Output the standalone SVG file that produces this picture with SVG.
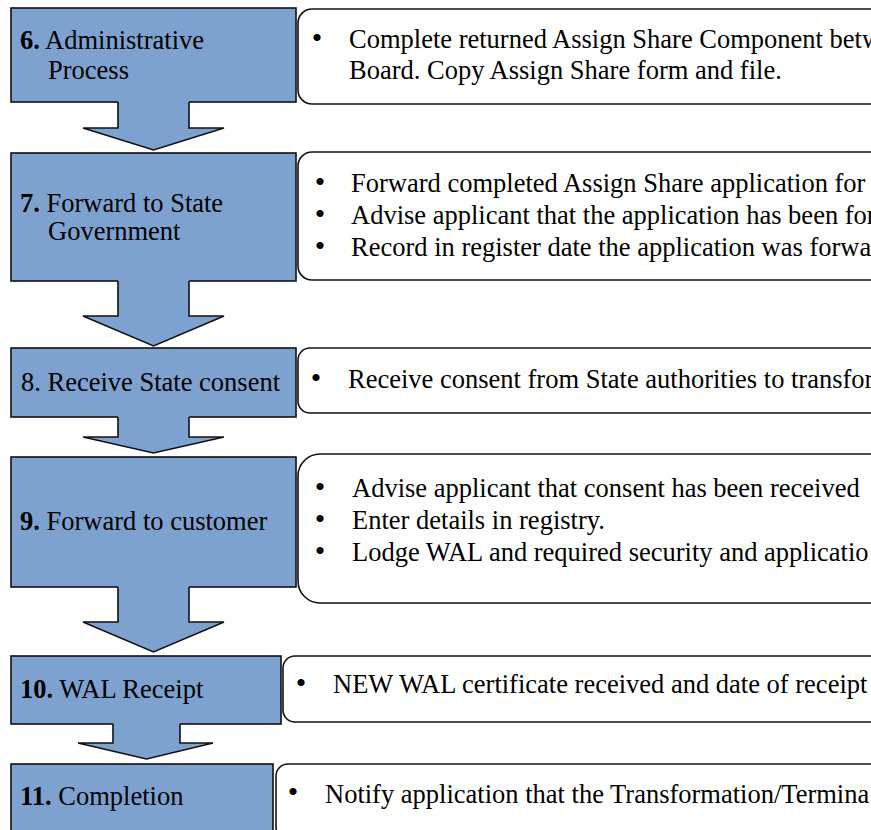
<svg xmlns="http://www.w3.org/2000/svg" width="871" height="830" viewBox="0 0 871 830">
<style>
.step{fill:#7DA2CF;stroke:#111;stroke-width:1.6}
.af{fill:#7DA2CF;stroke:none}
.al{fill:none;stroke:#111;stroke-width:1.6;stroke-linejoin:miter}
.det{fill:#fff;stroke:#111;stroke-width:1.6}
</style>
<rect width="871" height="830" fill="#fff"/>
<g id="n6">
<rect class="step" x="11" y="8" width="285" height="94"/>
<text x="20" y="49" font-family="'Liberation Serif', serif" font-size="26.5"><tspan font-weight="bold">6.</tspan> Administrative</text>
<text x="48" y="79" font-family="'Liberation Serif', serif" font-size="26.5">Process</text>
</g>
<g id="d6">
<rect class="det" x="298" y="9" width="600" height="95" rx="14"/>
<text x="317" y="48" font-family="'Liberation Serif', serif" font-size="30" text-anchor="middle">•</text>
<text x="349" y="48" font-family="'Liberation Serif', serif" font-size="26.5">Complete returned Assign Share Component betw</text>
<text x="349" y="79" font-family="'Liberation Serif', serif" font-size="26.5">Board. Copy Assign Share form and file.</text>
</g>
<g id="n7">
<rect class="step" x="11" y="153" width="285" height="128"/>
<text x="20" y="212" font-family="'Liberation Serif', serif" font-size="26.5"><tspan font-weight="bold">7.</tspan> Forward to State</text>
<text x="48" y="240" font-family="'Liberation Serif', serif" font-size="26.5">Government</text>
</g>
<g id="d7">
<rect class="det" x="298" y="152" width="600" height="128" rx="14"/>
<text x="320" y="192" font-family="'Liberation Serif', serif" font-size="30" text-anchor="middle">•</text>
<text x="351" y="192" font-family="'Liberation Serif', serif" font-size="26.5">Forward completed Assign Share application for</text>
<text x="320" y="224" font-family="'Liberation Serif', serif" font-size="30" text-anchor="middle">•</text>
<text x="351" y="224" font-family="'Liberation Serif', serif" font-size="26.5">Advise applicant that the application has been for</text>
<text x="320" y="256" font-family="'Liberation Serif', serif" font-size="30" text-anchor="middle">•</text>
<text x="351" y="256" font-family="'Liberation Serif', serif" font-size="26.5">Record in register date the application was forwa</text>
</g>
<g id="n8">
<rect class="step" x="11" y="348" width="285" height="69"/>
<text x="21" y="391" font-family="'Liberation Serif', serif" font-size="26.5">8. Receive State consent</text>
</g>
<g id="d8">
<rect class="det" x="298" y="348" width="600" height="65" rx="12"/>
<text x="316" y="388" font-family="'Liberation Serif', serif" font-size="30" text-anchor="middle">•</text>
<text x="348" y="388" font-family="'Liberation Serif', serif" font-size="26.5">Receive consent from State authorities to transfor</text>
</g>
<g id="n9">
<rect class="step" x="11" y="457" width="285" height="130"/>
<text x="20" y="530" font-family="'Liberation Serif', serif" font-size="26.5"><tspan font-weight="bold">9.</tspan> Forward to customer</text>
</g>
<g id="d9">
<rect class="det" x="298" y="454" width="600" height="149" rx="22"/>
<text x="320" y="497" font-family="'Liberation Serif', serif" font-size="30" text-anchor="middle">•</text>
<text x="352" y="497" font-family="'Liberation Serif', serif" font-size="26.5">Advise applicant that consent has been received</text>
<text x="320" y="529" font-family="'Liberation Serif', serif" font-size="30" text-anchor="middle">•</text>
<text x="352" y="529" font-family="'Liberation Serif', serif" font-size="26.5">Enter details in registry.</text>
<text x="320" y="561" font-family="'Liberation Serif', serif" font-size="30" text-anchor="middle">•</text>
<text x="352" y="561" font-family="'Liberation Serif', serif" font-size="26.5">Lodge WAL and required security and applicatio</text>
</g>
<g id="n10">
<rect class="step" x="11" y="656" width="270" height="68"/>
<text x="20" y="698" font-family="'Liberation Serif', serif" font-size="26.5"><tspan font-weight="bold">10.</tspan> WAL Receipt</text>
</g>
<g id="d10">
<rect class="det" x="283" y="656" width="620" height="66" rx="12"/>
<text x="301" y="693" font-family="'Liberation Serif', serif" font-size="30" text-anchor="middle">•</text>
<text x="333" y="693" font-family="'Liberation Serif', serif" font-size="26.5">NEW WAL certificate received and date of receipt</text>
</g>
<g id="n11">
<rect class="step" x="11" y="764" width="262" height="75"/>
<text x="20" y="805" font-family="'Liberation Serif', serif" font-size="26.5"><tspan font-weight="bold">11.</tspan> Completion</text>
</g>
<g id="d11">
<rect class="det" x="276" y="764" width="620" height="75" rx="12"/>
<text x="293" y="802" font-family="'Liberation Serif', serif" font-size="30" text-anchor="middle">•</text>
<text x="325" y="803" font-family="'Liberation Serif', serif" font-size="26.5">Notify application that the Transformation/Termina</text>
</g>
<g id="connectors">
<polygon class="af" points="118,101 118,128 83,128 153.5,150 224,128 189,128 189,101"/>
<polyline class="al" points="118,102 118,128 83,128 153.5,150 224,128 189,128 189,102"/>
<polygon class="af" points="118,280 118,316 83,316 153.5,346 224,316 189,316 189,280"/>
<polyline class="al" points="118,281 118,316 83,316 153.5,346 224,316 189,316 189,281"/>
<polygon class="af" points="118,416 118,437 83,437 153.5,453 224,437 189,437 189,416"/>
<polyline class="al" points="118,417 118,437 83,437 153.5,453 224,437 189,437 189,417"/>
<polygon class="af" points="118,586 118,622 83,622 153.5,652 224,622 189,622 189,586"/>
<polyline class="al" points="118,587 118,622 83,622 153.5,652 224,622 189,622 189,587"/>
<polygon class="af" points="113,723 113,743 78,743 146.5,759 213,743 180,743 180,723"/>
<polyline class="al" points="113,724 113,743 78,743 146.5,759 213,743 180,743 180,724"/>
</g>
</svg>
